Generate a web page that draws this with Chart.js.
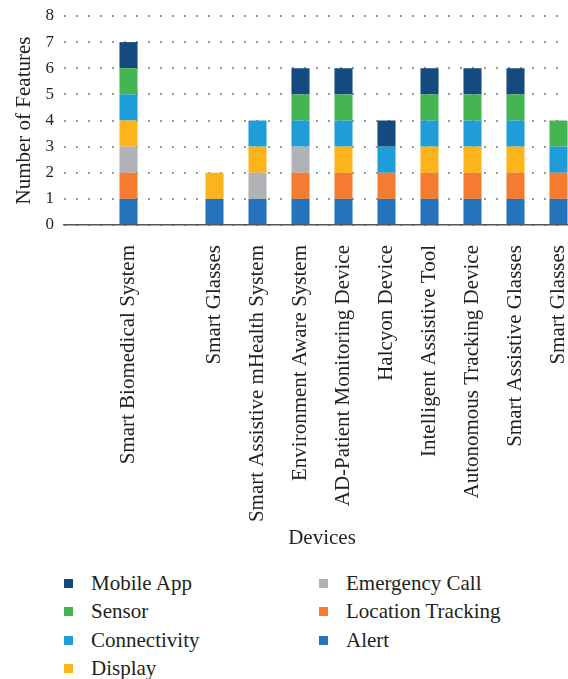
<!DOCTYPE html>
<html>
<head>
<meta charset="utf-8">
<script src="https://cdn.jsdelivr.net/npm/chart.js@4.4.1/dist/chart.umd.min.js"></script>
<style>
  body { margin: 0; width: 568px; height: 679px; overflow: hidden; background: #fff; position: relative; }
  #wrap { position: absolute; left: 0; top: 0; width: 600px; height: 555px; }
  #legend {
    position: absolute; left: 64px; top: 569px;
    display: grid; grid-auto-flow: column;
    grid-template-rows: repeat(4, 28.5px); grid-template-columns: 255px 255px;
    font-family: "Liberation Serif", serif; font-size: 21px; color: #231f20;
  }
  .item { display: flex; align-items: center; }
  .box { width: 9px; height: 9px; margin-right: 18px; }
</style>
</head>
<body>
<div id="wrap"><canvas id="myChart"></canvas></div>
<div id="legend"></div>
<script>
// categories (empty slots are gaps in the original figure)
var devices = ["", "Smart Biomedical System", "", "Smart Glasses", "Smart Assistive mHealth System",
  "Environment Aware System", "AD-Patient Monitoring Device", "Halcyon Device",
  "Intelligent Assistive Tool", "Autonomous Tracking Device", "Smart Assistive Glasses", "Smart Glasses"];

// one array per feature, bottom of the stack first
var alert_ = [0, 1, 0, 1, 1, 1, 1, 1, 1, 1, 1, 1];
var locationTracking = [0, 1, 0, 0, 0, 1, 1, 1, 1, 1, 1, 1];
var emergencyCall = [0, 1, 0, 0, 1, 1, 0, 0, 0, 0, 0, 0];
var display = [0, 1, 0, 1, 1, 0, 1, 0, 1, 1, 1, 0];
var connectivity = [0, 1, 0, 0, 1, 1, 1, 1, 1, 1, 1, 1];
var sensor = [0, 1, 0, 0, 0, 1, 1, 0, 1, 1, 1, 1];
var mobileApp = [0, 1, 0, 0, 0, 1, 1, 1, 1, 1, 1, 0];

var yTicks = [0, 1, 2, 3, 4, 5, 6, 7, 8];

var serif = "'Liberation Serif', serif";
var textColor = "#231f20";

var datasets = [
  { label: "Alert", data: alert_, backgroundColor: "#2473bb" },
  { label: "Location Tracking", data: locationTracking, backgroundColor: "#f47b30" },
  { label: "Emergency Call", data: emergencyCall, backgroundColor: "#b1b2b5" },
  { label: "Display", data: display, backgroundColor: "#fcb41c" },
  { label: "Connectivity", data: connectivity, backgroundColor: "#1e9dd8" },
  { label: "Sensor", data: sensor, backgroundColor: "#44b550" },
  { label: "Mobile App", data: mobileApp, backgroundColor: "#144a7e" }
];
datasets.forEach(function (d) {
  d.borderWidth = 0;
  d.barPercentage = 0.42;
  d.categoryPercentage = 1;
});

var myChart = new Chart(document.getElementById("myChart"), {
  type: "bar",
  data: { labels: devices, datasets: datasets },
  options: {
    responsive: true,
    maintainAspectRatio: false,
    animation: false,
    layout: { padding: { top: 16, right: 20, left: 0, bottom: 0 } },
    plugins: { legend: { display: false }, tooltip: { enabled: false } },
    scales: {
      x: {
        stacked: true,
        grid: { display: false },
        border: { display: true, color: "#555", width: 1.5 },
        ticks: {
          autoSkip: false, minRotation: 90, maxRotation: 90, padding: 12,
          color: textColor, font: { family: serif, size: 21 }
        },
        title: {
          display: true, text: "Devices", color: textColor,
          font: { family: serif, size: 21 }, padding: { top: 4, bottom: 4 }
        },
        afterFit: function (scale) { scale.height = 330; }
      },
      y: {
        stacked: true,
        min: 0, max: 8,
        afterBuildTicks: function (scale) {
          scale.ticks = yTicks.map(function (v) { return { value: v }; });
        },
        grid: { color: "#9a9a9a", lineWidth: 2, drawTicks: false },
        border: { display: false, dash: [2, 10] },
        ticks: { padding: 10, color: textColor, font: { family: serif, size: 17 } },
        title: {
          display: true, text: "Number of Features", color: textColor,
          font: { family: serif, size: 21 }, padding: { top: 12, bottom: 0 }
        },
        afterFit: function (scale) {
          scale.width = 64;
          scale.paddingTop = 0;
          scale.paddingBottom = 0;
        }
      }
    }
  }
});

// legend in two columns, top of the stack first
var legend = document.getElementById("legend");
datasets.slice().reverse().forEach(function (d) {
  var item = document.createElement("div");
  item.className = "item";
  item.innerHTML = '<span class="box" style="background:' + d.backgroundColor + '"></span>' + d.label;
  legend.appendChild(item);
});
</script>
</body>
</html>
